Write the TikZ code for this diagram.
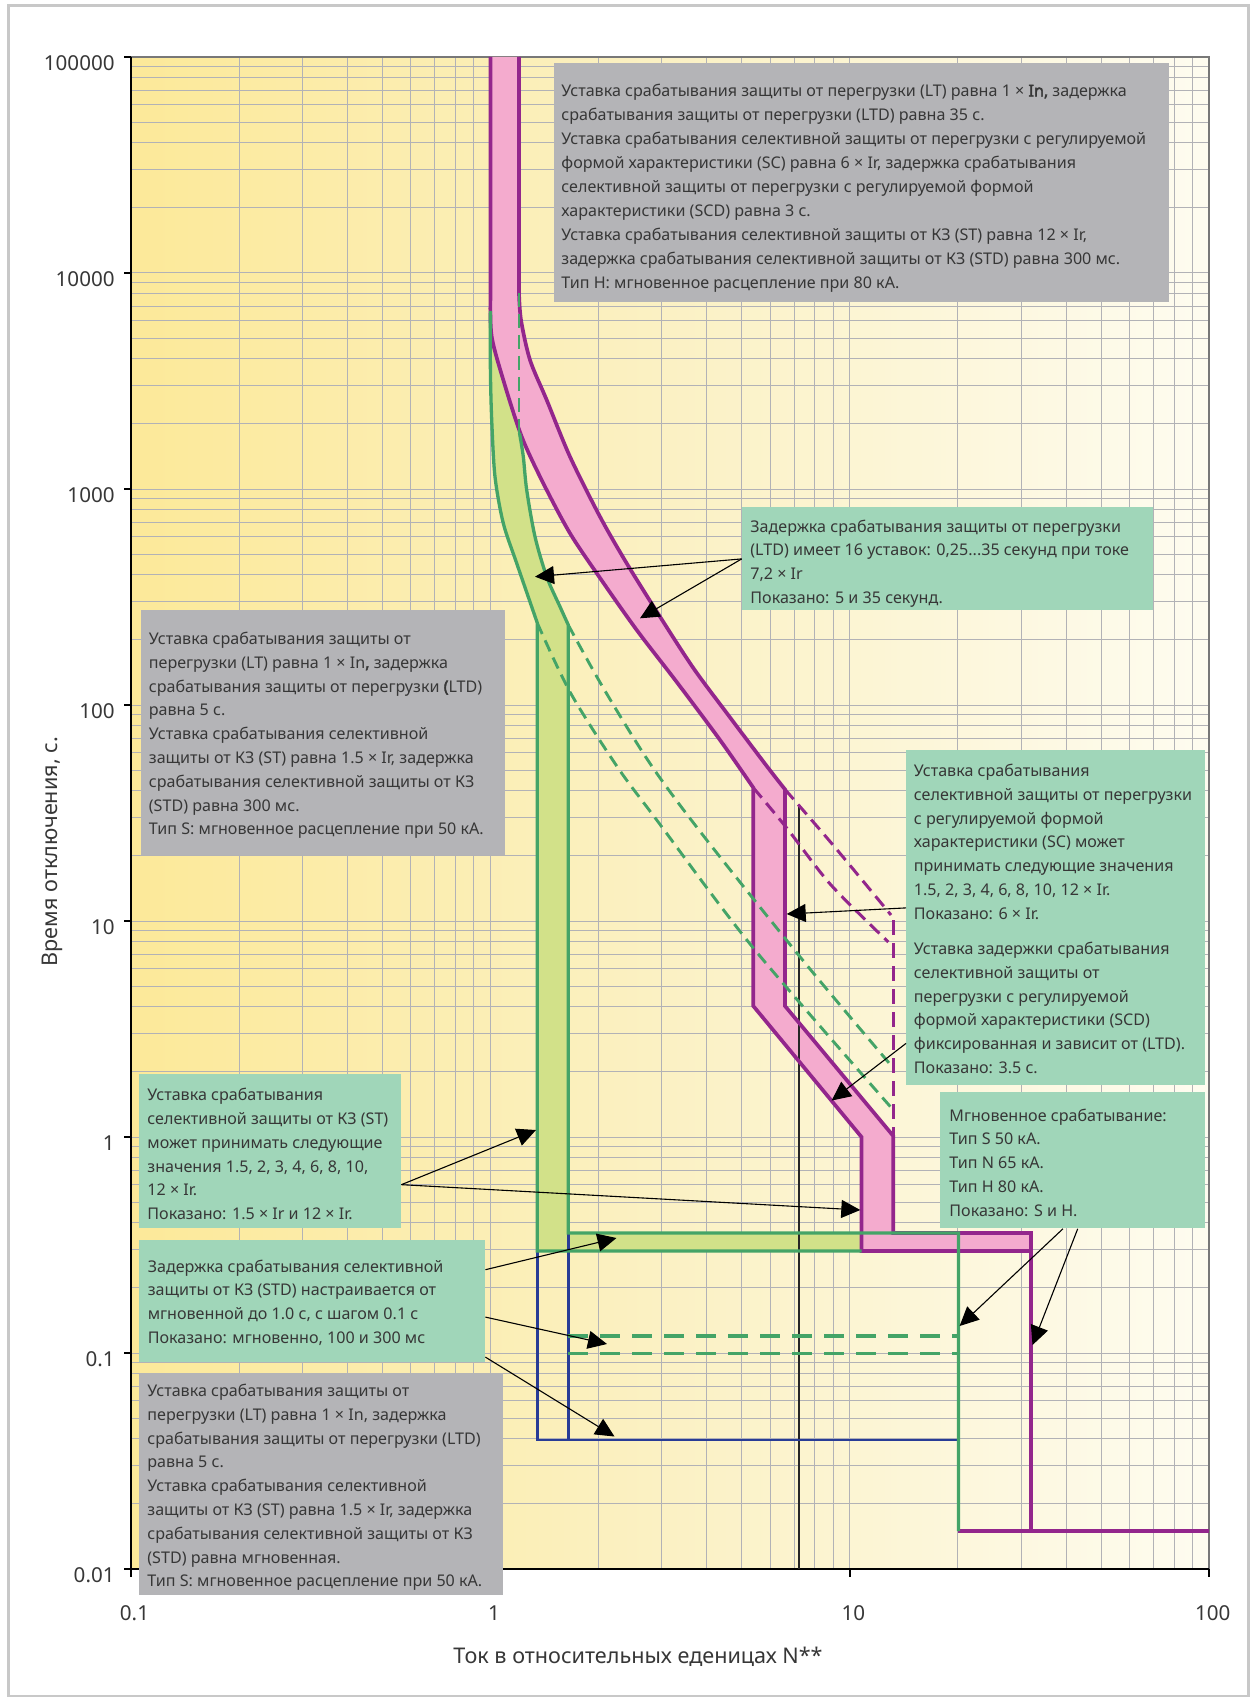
\documentclass[tikz,border=0pt]{standalone}
\usepackage{fontspec}
\setmainfont{Noto Sans}
\newfontfamily\fakebold{Noto Sans}[FakeBold=2.5]
\usetikzlibrary{arrows.meta}
\definecolor{purp}{RGB}{147,38,140}
\definecolor{pinkf}{RGB}{244,171,206}
\definecolor{grn}{RGB}{68,164,103}
\definecolor{grnf}{RGB}{210,225,137}
\definecolor{blu}{RGB}{40,60,150}
\definecolor{grayb}{RGB}{180,180,183}
\definecolor{greenb}{RGB}{160,214,185}
\definecolor{txt}{RGB}{55,55,55}
\definecolor{gridc}{RGB}{178,178,182}
\definecolor{bordc}{RGB}{120,120,120}
\definecolor{framec}{RGB}{200,200,200}
\definecolor{bgl}{RGB}{252,233,153}
\definecolor{bgm}{RGB}{251,241,196}
\definecolor{bgr}{RGB}{254,252,240}
\begin{document}
\begin{tikzpicture}[x=0.5pt,y=-0.5pt,
  gridline/.style={draw=gridc, line width=0.5pt},
  purpline/.style={draw=purp, line width=1.85pt},
  grnline/.style={draw=grn, line width=1.65pt},
  bluline/.style={draw=blu, line width=1.45pt},
  pdash/.style={draw=purp, line width=1.5pt, dash pattern=on 6.5pt off 3.5pt},
  gdash/.style={draw=grn, line width=1.45pt, dash pattern=on 6pt off 3.5pt},
  gdashthick/.style={draw=grn, line width=1.9pt, dash pattern=on 10pt off 6pt},
  graybox/.style={fill=grayb, inner sep=0pt, anchor=north west},
  greenbox/.style={fill=greenb, inner sep=0pt, anchor=north west},
  boxtext/.style={font=\fontsize{8.05}{11.9}\selectfont, text=txt, align=left, inner sep=0pt, anchor=north west},
  arr/.style={draw=black, line width=0.55pt, -{Triangle[length=9.5pt,width=9pt]}},
  ticklab/.style={font=\fontsize{10.3}{12}\selectfont, text=txt, inner sep=0pt},
  axtitle/.style={font=\fontsize{10.8}{13}\selectfont, text=txt, inner sep=0pt}
]
\useasboundingbox (0,0) rectangle (1256,1701);
\fill[white] (0,0) rectangle (1256,1701);
\draw[draw=framec, line width=1.4pt] (8.5,5.5) rectangle (1248.5,1696);
% plot background
\shade[left color=bgl, right color=bgr, middle color=bgm] (131,57) rectangle (1209.2,1569);
% grid
\foreach \d in {0,1,2} \foreach \k in {1,...,9} {
  \pgfmathsetmacro\gx{131+359.4*(\d+ln(\k)/ln(10))}
  \draw[gridline] (\gx,57) -- (\gx,1569);
}
\foreach \e in {-2,...,4} \foreach \k in {1,...,9} {
  \pgfmathsetmacro\gy{57+216*(5-\e-ln(\k)/ln(10))}
  \draw[gridline] (131,\gy) -- (1209.2,\gy);
}
\draw[draw=bordc, line width=0.8pt] (131,57) -- (1209.2,57) -- (1209.2,1569);
\draw[black, line width=0.8pt] (131,57) -- (131,1569) -- (1209.2,1569);
\foreach \k in {0,...,7} \draw[black, line width=0.8pt] (124,57+216*\k) -- (131,57+216*\k);
\foreach \d in {0,...,3} \draw[black, line width=0.8pt] (131+359.4*\d,1569) -- (131+359.4*\d,1577);
% green band fill
\fill[grnf] plot[smooth] coordinates {(490.4,311) (490.4,370) (491.7,420) (495,476.7) (503.3,523.3) (516.7,563.3) (537.3,623)} -- (537.3,1251) -- (958.4,1251) -- (958.4,1233) -- (568.3,1233) -- plot[smooth] coordinates {(568.3,625) (560,606.7) (546.7,576.7) (535,536.7) (526.7,490) (523.3,456.7) (519.5,433)} -- (519.5,293) -- cycle;
% pink band fill
\fill[pinkf] (490.4,57) -- plot[smooth] coordinates {(490.4,300) (491.7,336.7) (503.3,380) (521.7,436.7) (543.3,483.3) (570,533.3) (600,578) (636.7,630) (676.7,682) (720,740) (753.3,787.7)} -- (753.3,1006) -- (861.5,1137) -- (861.5,1251) -- (1031,1251) -- (1031,1233) -- (893.3,1233) -- (893.3,1136) -- (785,1006) -- plot[smooth] coordinates {(785,789.4) (766.7,766) (726.7,713) (693.3,668) (660,616.7) (626.7,563.3) (600,516.7) (570,456.7) (546.7,400) (530,360) (521,320) (519,293)} -- (519,57) -- cycle;
% black 7.2 x Ir line
\draw[black!85, line width=1pt] (798.5,806.6) -- (798.5,1569);
% blue
\draw[bluline] (537.3,1251) -- (537.3,1440) -- (958.4,1440);
\draw[bluline] (568.3,1233) -- (568.3,1440);
% purple outlines
\draw[purpline] (490.4,57) -- plot[smooth] coordinates {(490.4,300) (491.7,336.7) (503.3,380) (521.7,436.7) (543.3,483.3) (570,533.3) (600,578) (636.7,630) (676.7,682) (720,740) (753.3,787.7)} -- (753.3,1006) -- (861.5,1137) -- (861.5,1251) -- (1031,1251);
\draw[purpline] (519,57) -- plot[smooth] coordinates {(519,293) (521,320) (530,360) (546.7,400) (570,456.7) (600,516.7) (626.7,563.3) (660,616.7) (693.3,668) (726.7,713) (766.7,766) (785,789.4)} -- (785,1006) -- (893.3,1136) -- (893.3,1233) -- (1031,1233) -- (1031,1531);
\draw[purpline] (958.4,1531) -- (1209.2,1531);
\draw[pdash] plot[smooth] coordinates {(753.3,787.7) (786.7,828) (831,885) (888.3,942)};
\draw[pdash] plot[smooth] coordinates {(785,789.4) (833,845) (891,915)};
\draw[pdash, dash pattern=on 7.5pt off 4pt] (893.3,920) -- (893.3,1136);
% green dashed
\draw[gdash] plot[smooth] coordinates {(537.3,623) (570,692) (616.7,766) (656.7,820) (753.3,948) (893.3,1110)};
\draw[gdash] plot[smooth] coordinates {(568.3,625) (603.3,688) (651.7,766) (706.7,840) (806.7,965) (893.3,1068)};
\draw[gdash, dash pattern=on 7pt off 3.5pt] (519,293) -- (519,433);
\draw[gdashthick] (568.3,1336) -- (958.4,1336);
\draw[gdashthick] (568.3,1353.5) -- (958.4,1353.5);
% green outlines
\draw[grnline] plot[smooth] coordinates {(490.4,311) (490.4,370) (491.7,420) (495,476.7) (503.3,523.3) (516.7,563.3) (537.3,623)} -- (537.3,1251) -- (861.5,1251);
\draw[grnline] plot[smooth] coordinates {(519.5,433) (523.3,456.7) (526.7,490) (535,536.7) (546.7,576.7) (560,606.7) (568.3,625)} -- (568.3,1233) -- (958.4,1233) -- (958.4,1531);
% boxes
\node[graybox, minimum width=307.5pt, minimum height=119.5pt] (boxT) at (553.5,63) {};
\node[greenbox, minimum width=205.65pt, minimum height=51.5pt] (boxLTD) at (741.7,507) {};
\node[graybox, minimum width=182.25pt, minimum height=122.85pt] (boxM) at (140.5,609.3) {};
\node[greenbox, minimum width=149.5pt, minimum height=167.5pt] (boxSC) at (906,750) {};
\node[greenbox, minimum width=131pt, minimum height=76.75pt] (boxST) at (138.6,1074) {};
\node[greenbox, minimum width=132.5pt, minimum height=68pt] (boxI) at (940,1092) {};
\node[greenbox, minimum width=173.2pt, minimum height=61.2pt] (boxSTD) at (138.2,1239.3) {};
\node[graybox, minimum width=182.2pt, minimum height=111.35pt] (boxB) at (138.2,1372.3) {};
% texts
\node[boxtext, font=\fontsize{8.05}{12}\selectfont] (txtT) at (561,76) {\rule{0pt}{10pt}Уставка срабатывания защиты от перегрузки (LT) равна 1 × {\fakebold In,} задержка\\
срабатывания защиты от перегрузки (LTD) равна 35 с.\\
Уставка срабатывания селективной защиты от перегрузки с регулируемой\\
формой характеристики (SC) равна 6 × Ir, задержка срабатывания\\
селективной защиты от перегрузки с регулируемой формой\\
характеристики (SCD) равна 3 с.\\
Уставка срабатывания селективной защиты от КЗ (ST) равна 12 × Ir,\\
задержка срабатывания селективной защиты от КЗ (STD) равна 300 мс.\\
Тип H: мгновенное расцепление при 80 кА.};
\node[boxtext] (txtLTD) at (750,511.7) {\rule{0pt}{10pt}Задержка срабатывания защиты от перегрузки\\
(LTD) имеет 16 уставок: 0,25...35 секунд при токе\\
7,2 × Ir\\
Показано: 5 и 35 секунд.};
\node[boxtext] (txtM) at (148.5,624) {\rule{0pt}{10pt}Уставка срабатывания защиты от\\
перегрузки (LT) равна 1 × In{\fakebold ,} задержка\\
срабатывания защиты от перегрузки {\fakebold (}LTD)\\
равна 5 с.\\
Уставка срабатывания селективной\\
защиты от КЗ (ST) равна 1.5 × Ir, задержка\\
срабатывания селективной защиты от КЗ\\
(STD) равна 300 мс.\\
Тип S: мгновенное расцепление при 50 кА.};
\node[boxtext] (txtSC) at (913.5,756) {\rule{0pt}{10pt}Уставка срабатывания\\
селективной защиты от перегрузки\\
с регулируемой формой\\
характеристики (SC) может\\
принимать следующие значения\\
1.5, 2, 3, 4, 6, 8, 10, 12 × Ir.\\
Показано: 6 × Ir.\\[5.75pt]
Уставка задержки срабатывания\\
селективной защиты от\\
перегрузки с регулируемой\\
формой характеристики (SCD)\\
фиксированная и зависит от (LTD).\\
Показано: 3.5 с.};
\node[boxtext] (txtST) at (147,1080.3) {\rule{0pt}{10pt}Уставка срабатывания\\
селективной защиты от КЗ (ST)\\
может принимать следующие\\
значения 1.5, 2, 3, 4, 6, 8, 10,\\
12 × Ir.\\
Показано: 1.5 × Ir и 12 × Ir.};
\node[boxtext] (txtI) at (949,1100.7) {\rule{0pt}{10pt}Мгновенное срабатывание:\\
Тип S 50 кА.\\
Тип N 65 кА.\\
Тип H 80 кА.\\
Показано: S и H.};
\node[boxtext] (txtSTD) at (147.4,1251.7) {\rule{0pt}{10pt}Задержка срабатывания селективной\\
защиты от КЗ (STD) настраивается от\\
мгновенной до 1.0 с, с шагом 0.1 с\\
Показано: мгновенно, 100 и 300 мс};
\node[boxtext] (txtB) at (147,1376) {\rule{0pt}{10pt}Уставка срабатывания защиты от\\
перегрузки (LT) равна 1 × In, задержка\\
срабатывания защиты от перегрузки (LTD)\\
равна 5 с.\\
Уставка срабатывания селективной\\
защиты от КЗ (ST) равна 1.5 × Ir, задержка\\
срабатывания селективной защиты от КЗ\\
(STD) равна мгновенная.\\
Тип S: мгновенное расцепление при 50 кА.};
% arrow tips
\coordinate (tA1) at (535,576.7);
\coordinate (tA2) at (640,618.3);
\coordinate (tA3) at (786.7,914);
\coordinate (tA4) at (831.7,1100.5);
\coordinate (tA5) at (536,1130);
\coordinate (tA6) at (860.3,1210);
\coordinate (tA7) at (616.5,1238);
\coordinate (tA8) at (607,1344);
\coordinate (tA9) at (614.5,1436.5);
\coordinate (tA10) at (959.6,1326);
\coordinate (tA11) at (1032.5,1345);
\draw[arr] (boxLTD.west) -- (tA1);
\draw[arr] (boxLTD.west) -- (tA2);
\draw[arr] ([yshift=5pt]boxSC.west) -- (tA3);
\draw[arr] ([yshift=21.2pt]boxSC.south west) -- (tA4);
\draw[arr] ([yshift=-16.75pt]boxST.east) -- (tA5);
\draw[arr] ([yshift=-16.75pt]boxST.east) -- (tA6);
\draw[arr] ([yshift=15.6pt]boxSTD.east) -- (tA7);
\draw[arr] ([yshift=-8.1pt]boxSTD.east) -- (tA8);
\draw[arr] ([yshift=-28.1pt]boxSTD.east) -- (tA9);
\draw[arr] ([xshift=-5pt]boxI.south) -- (tA10);
\draw[arr] ([xshift=2.4pt]boxI.south) -- (tA11);
% tick labels
\foreach \lab [count=\i from 0] in {100000,10000,1000,100,10,1,0.1,0.01}
  \node[ticklab, anchor=east] (ylab\i) at (115,63.5+216*\i) {\lab};
\foreach \lab [count=\i from 0] in {0.1,1,10,100}
  \node[ticklab] (xlab\i) at (134.5+359.4*\i,1612.7) {\lab};
\node[axtitle] (xtitle) at (638,1657) {Ток в относительных еденицах N**};
\node[axtitle, rotate=90] (ytitle) at (52.5,851.7) {Время отключения, с.};
\end{tikzpicture}
\end{document}
